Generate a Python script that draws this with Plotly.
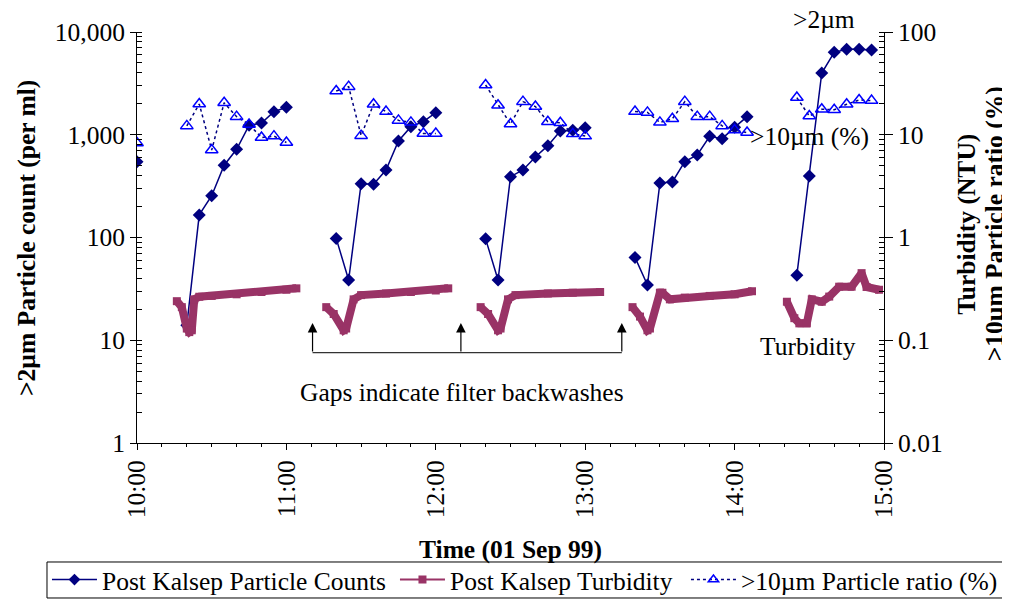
import plotly.graph_objects as go

# ---------------- data ----------------
DAY = "1999-09-01 "

count_time = ["10:00", "10:10",
              "10:20", "10:25", "10:30", "10:35", "10:40", "10:45", "10:50", "10:55", "11:00", "11:10",
              "11:20", "11:25", "11:30", "11:35", "11:40", "11:45", "11:50", "11:55", "12:00", "12:10",
              "12:20", "12:25", "12:30", "12:35", "12:40", "12:45", "12:50", "12:55", "13:00", "13:10",
              "13:20", "13:25", "13:30", "13:35", "13:40", "13:45", "13:50", "13:55", "14:00", "14:05", "14:15",
              "14:25", "14:30", "14:35", "14:40", "14:45", "14:50", "14:55"]

count_vals = [547, None,
              14, 166, 255, 505, 722, 1236, 1301, 1675, 1850, None,
              98, 38.6, 334, 330, 454, 869, 1199, 1340, 1640, None,
              97, 38.6, 391, 454, 607, 783, 1088, 1104, 1171, None,
              64, 34.5, 339, 347, 547, 635, 966, 916, 1181, 1500, None,
              43, 397, 3990, 6340, 6780, 6780, 6680]

ratio_vals = [8.3, None,
              12.2, 19.9, 7.1, 20.5, 15.0, 12.6, 9.4, 9.7, 8.4, None,
              26.7, 29.4, 9.8, 19.8, 16.8, 13.8, 13.2, 10.3, 10.3, None,
              30.5, 19.4, 12.7, 21.0, 18.8, 13.4, 13.1, 10.2, 9.7, None,
              16.8, 16.5, 13.2, 14.3, 21.0, 15.0, 15.0, 12.2, 11.1, 10.5, None,
              23.0, 15.2, 17.7, 17.5, 19.8, 21.8, 21.5]

turb_time = ["10:16", "10:18", "10:20", "10:21", "10:22", "10:23", "10:25", "10:30", "10:40", "10:50", "11:00", "11:04", "11:10",
             "11:16", "11:19", "11:23", "11:24", "11:27", "11:30", "11:40", "11:50", "12:00", "12:05", "12:10",
             "12:18", "12:21", "12:25", "12:26", "12:29", "12:32", "12:45", "12:55", "13:06", "13:12",
             "13:19", "13:22", "13:25", "13:26", "13:30", "13:31", "13:34", "13:40", "13:50", "14:00", "14:07", "14:15",
             "14:21", "14:24", "14:26", "14:29", "14:31", "14:35", "14:38", "14:42", "14:47", "14:51", "14:53", "14:58"]

turb_vals = [0.24, 0.21, 0.13, 0.12, 0.125, 0.25, 0.265, 0.27, 0.28, 0.295, 0.31, 0.32, None,
             0.21, 0.18, 0.125, 0.13, 0.25, 0.275, 0.285, 0.295, 0.305, 0.32, None,
             0.21, 0.18, 0.125, 0.13, 0.25, 0.275, 0.285, 0.29, 0.295, None,
             0.21, 0.17, 0.125, 0.13, 0.29, 0.29, 0.25, 0.26, 0.27, 0.28, 0.30, None,
             0.237, 0.164, 0.146, 0.146, 0.25, 0.237, 0.266, 0.332, 0.332, 0.45, 0.33, 0.31]

x_range = ["10:00", "15:00"]
left_ticks = [1, 10, 100, 1000, 10000]
left_labels = ["1", "10", "100", "1,000", "10,000"]
right_ticks = [0.01, 0.1, 1, 10, 100]
right_labels = ["0.01", "0.1", "1", "10", "100"]

names = ["Post Kalsep Particle Counts", "Post Kalsep Turbidity", "&gt;10µm Particle ratio (%)"]

# ---------------- style ----------------
NAVY = "#000080"
PLUM = "#993366"
BLUE = "#0000FF"
FONT = "Liberation Serif"
FS = 25.5


def stamp(ts):
    return [DAY + t + ":00" for t in ts]


fig = go.Figure()

fig.add_trace(go.Scatter(x=stamp(count_time), y=count_vals, yaxis="y", mode="lines+markers",
                         line=dict(color=NAVY, width=1.5),
                         marker=dict(symbol="diamond", size=10, color=NAVY),
                         showlegend=False, name=names[0]))
fig.add_trace(go.Scatter(x=stamp(turb_time), y=turb_vals, yaxis="y2", mode="lines+markers",
                         line=dict(color=PLUM, width=8),
                         marker=dict(symbol="square", size=8, color=PLUM),
                         showlegend=False, name=names[1]))
fig.add_trace(go.Scatter(x=stamp(count_time), y=ratio_vals, yaxis="y2", mode="lines+markers",
                         line=dict(color=NAVY, width=1.5, dash="dot"),
                         marker=dict(symbol="triangle-up-open", size=11, color=BLUE,
                                     line=dict(width=1.5, color=BLUE)),
                         showlegend=False, name=names[2]))

# legend proxies, one small legend each so that spacing follows the reference
fig.add_trace(go.Scatter(x=[None], y=[None], mode="lines+markers", name=names[0], legend="legend",
                         line=dict(color=NAVY, width=1.5),
                         marker=dict(symbol="diamond", size=9, color=NAVY)))
fig.add_trace(go.Scatter(x=[None], y=[None], mode="lines+markers", name=names[1], legend="legend2",
                         line=dict(color=PLUM, width=2),
                         marker=dict(symbol="square", size=8, color=PLUM)))
fig.add_trace(go.Scatter(x=[None], y=[None], mode="lines+markers", name=names[2], legend="legend3",
                         line=dict(color=NAVY, width=1.5, dash="dot"),
                         marker=dict(symbol="triangle-up-open", size=9, color=BLUE,
                                     line=dict(width=1.5, color=BLUE))))

axis_common = dict(showgrid=False, zeroline=False, showline=True, linecolor="black", linewidth=1,
                   tickcolor="black", automargin=False,
                   tickfont=dict(family=FONT, size=FS, color="black"))

leg_common = dict(orientation="h", xref="container", yref="container", xanchor="left", yanchor="middle",
                  y=0.0387, borderwidth=0, bgcolor="rgba(0,0,0,0)",
                  font=dict(family=FONT, size=FS, color="black"), itemwidth=45)

# the page body adds an 8px offset; the figure is sized so the plot area lands where the reference has it
fig.update_layout(
    width=1002, height=595,
    margin=dict(l=129, r=126, t=24, b=160, autoexpand=False),
    paper_bgcolor="white", plot_bgcolor="white",
    font=dict(family=FONT, size=FS, color="black"),
    xaxis=dict(type="date", range=stamp(x_range), tickformat="%H:%M",
               tick0=DAY + "10:00:00", dtick=3600000, tickangle=-90,
               ticks="outside", ticklen=6,
               minor=dict(dtick=600000, ticks="outside", ticklen=3, tickcolor="black"),
               **axis_common),
    yaxis=dict(type="log", range=[0, 4], tickvals=left_ticks, ticktext=left_labels,
               ticks="outside", ticklen=6, ticklabelstandoff=0,
               minor=dict(ticks="inside", ticklen=5, dtick="D1", tickcolor="black"),
               **axis_common),
    yaxis2=dict(type="log", range=[-2, 2], overlaying="y", side="right",
                tickvals=right_ticks, ticktext=right_labels,
                ticks="outside", ticklen=8, ticklabelstandoff=0,
                minor=dict(ticks="inside", ticklen=5, dtick="D1", tickcolor="black"),
                **axis_common),
    legend=dict(x=0.0389, **leg_common),
    legend2=dict(x=0.3862, **leg_common),
    legend3=dict(x=0.6766, **leg_common),
)

bold = dict(family=FONT, size=FS, color="black")
ann = [
    dict(text="<b>&gt;2µm Particle count (per ml)</b>", x=-0.148, y=0.5, textangle=-90, font=bold),
    dict(text="<b>Turbidity (NTU)</b>", x=1.111, y=0.533, textangle=-90, font=bold),
    dict(text="<b>&gt;10µm Particle ratio (%)</b>", x=1.149, y=0.533, textangle=-90, font=bold),
    dict(text="<b>Time (01 Sep 99)</b>", x=0.5, y=-0.2603, font=bold),
    dict(text="&gt;2µm", x=0.92, y=1.031, font=dict(family=FONT, size=FS)),
    dict(text="&gt;10µm (%)", x=0.90, y=0.745, font=dict(family=FONT, size=FS)),
    dict(text="Turbidity", x=0.898, y=0.236, font=dict(family=FONT, size=FS)),
    dict(text="Gaps indicate filter backwashes", x=0.435, y=0.1217, font=dict(family=FONT, size=FS)),
]
for a in ann:
    fig.add_annotation(xref="paper", yref="paper", showarrow=False, xanchor="center", yanchor="middle", **a)

for ax_x in [0.235, 0.4336, 0.649]:
    fig.add_annotation(xref="paper", yref="paper", x=ax_x, y=0.292, text="", showarrow=True,
                       axref="pixel", ayref="pixel", ax=0, ay=30, arrowhead=2, arrowsize=1.6,
                       arrowwidth=1.2, arrowcolor="black")

fig.add_shape(type="line", xref="paper", yref="paper", x0=0.235, x1=0.649, y0=0.2197, y1=0.2197,
              line=dict(color="#333333", width=1.2))

# legend frame
fig.add_shape(type="rect", xref="paper", yref="paper", x0=-0.1205, x1=1.1593, y0=-0.3771, y1=-0.2895,
              line=dict(color="black", width=1), fillcolor="rgba(0,0,0,0)", layer="below")

fig.write_html("out.html")
